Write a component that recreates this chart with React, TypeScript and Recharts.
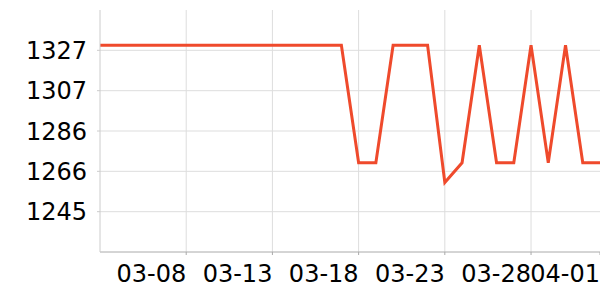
import { LineChart, Line, XAxis, YAxis, ReferenceLine } from "recharts";

const dates = [
  "03-03", "03-04", "03-05", "03-06", "03-07", "03-08", "03-09", "03-10",
  "03-11", "03-12", "03-13", "03-14", "03-15", "03-16", "03-17", "03-18",
  "03-19", "03-20", "03-21", "03-22", "03-23", "03-24", "03-25", "03-26",
  "03-27", "03-28", "03-29", "03-30", "03-31", "04-01",
];

const values = [
  1330, 1330, 1330, 1330, 1330, 1330, 1330, 1330,
  1330, 1330, 1330, 1330, 1330, 1330, 1330, 1270,
  1270, 1330, 1330, 1330, 1260, 1270, 1330, 1270,
  1270, 1330, 1270, 1330, 1270, 1270,
];

const xTicks = ["03-08", "03-13", "03-18", "03-23", "03-28", "04-01"];
const yTicks = [1245.08, 1265.67, 1286.25, 1306.83, 1327.42];
const yDomain = [1224.5, 1348];

const data = dates.map((date, i) => ({ date, value: values[i] }));

const font = "'DejaVu Sans', sans-serif";

export default function App() {
  return (
    <div style={{ position: "absolute", left: 0, top: 0, fontFamily: font }}>
      <LineChart
        width={600}
        height={300}
        data={data}
        margin={{ top: 10, right: 0, left: 0, bottom: 0 }}
      >
        {yTicks.map((t) => (
          <ReferenceLine key={"y" + t} y={t} stroke="#dddddd" />
        ))}
        {xTicks.slice(0, -1).map((t) => (
          <ReferenceLine key={"x" + t} x={t} stroke="#dddddd" />
        ))}
        <XAxis
          dataKey="date"
          ticks={xTicks}
          interval={0}
          height={48}
          tickSize={3}
          tickMargin={10}
          stroke="#aaaaaa"
          tick={{ fill: "#000", fontSize: 24, fontFamily: font, textAnchor: "end" }}
        />
        <YAxis
          domain={yDomain}
          ticks={yTicks}
          interval={0}
          width={100}
          tickSize={3}
          tickMargin={10}
          stroke="#cccccc"
          tickFormatter={(v) => String(Math.round(v))}
          tick={{ fill: "#000", fontSize: 24, fontFamily: font }}
        />
        <Line
          type="linear"
          dataKey="value"
          stroke="#ef4a2c"
          strokeWidth={3}
          dot={false}
          isAnimationActive={false}
        />
      </LineChart>
    </div>
  );
}
